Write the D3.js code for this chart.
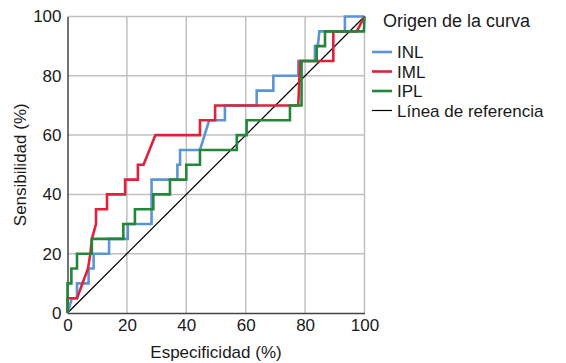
<!DOCTYPE html>
<html>
<head>
<meta charset="utf-8">
<script src="https://cdn.jsdelivr.net/npm/d3@7"></script>
<style>
  body { margin: 0; background: #fff; }
  text { font-family: "Liberation Sans", Arial, sans-serif; fill: #1a1a1a; }
</style>
</head>
<body>
<div id="chart"></div>
<script>
// Curve points: [especificidad, sensibilidad]
var inl = [[0,0],[1.5,5],[3.2,5],[3.2,10],[7.1,10],[7.1,15],[8.8,15],[8.8,20],[14,20],[14,25],
    [20.3,25],[20.3,30],[28.3,30],[28.3,45],[37,45],[37,50],[37.9,50],[37.9,55],[44.6,55],
    [47.7,65],[53,65],[53,70],[63.7,70],[63.7,75],[69.3,75],[69.3,80],[77.7,80],[77.7,85],
    [83.3,85],[83.3,90],[84.3,90],[84.8,95],[93.4,95],[93.4,100],[100,100]];

var iml = [[0,0],[0,5],[3.2,5],[6.9,15],[7.7,20],[8.2,25],[9.6,30],[9.6,35],[13.3,35],[13.3,40],
    [19.4,40],[19.4,45],[23.7,45],[23.7,50],[25.6,50],[29.6,60],[44.6,60],[44.6,65],[49.7,65],
    [49.7,70],[77.7,70],[78.3,85],[89.5,85],[89.5,95],[97.4,95],[100,100]];

var ipl = [[0,0],[0,10],[1.3,10],[1.3,15],[3.2,15],[3.2,20],[8.2,20],[8.2,25],[18.8,25],[18.8,30],
    [22.7,30],[22.7,35],[28.9,35],[28.9,40],[34.5,40],[34.5,45],[40,45],[40,50],[44.6,50],
    [44.6,55],[57,55],[57,60],[60.3,60],[60.3,65],[74.9,65],[74.9,70],[78.8,70],[78.8,85],
    [83.9,85],[83.9,90],[86.7,90],[86.7,95],[99.8,95],[100,100]];

var referencia = [[0,0],[100,100]];

var ticks = [0, 20, 40, 60, 80, 100];
var seriesNames = ["INL", "IML", "IPL", "Línea de referencia"];
var colors = ["#5b95d6", "#e0213b", "#23873a", "#000000"];

var w = 566, h = 363;
var svg = d3.select("#chart").append("svg")
    .attr("width", w)
    .attr("height", h);

var x = d3.scaleLinear().domain([0, 100]).range([67.5, 364.5]);
var y = d3.scaleLinear().domain([0, 100]).range([313, 16.5]);

// grid
svg.append("g").selectAll("line.vx")
    .data(ticks.slice(1))
    .enter().append("line")
    .attr("x1", d => x(d)).attr("x2", d => x(d))
    .attr("y1", y(0)).attr("y2", y(100))
    .attr("stroke", "#c0c0c0").attr("stroke-width", 1.5);

svg.append("g").selectAll("line.hy")
    .data(ticks.slice(1))
    .enter().append("line")
    .attr("x1", x(0)).attr("x2", x(100))
    .attr("y1", d => y(d)).attr("y2", d => y(d))
    .attr("stroke", "#c0c0c0").attr("stroke-width", 1.5);

// axes
var xAxis = svg.append("g")
    .attr("transform", "translate(0," + y(0) + ")")
    .call(d3.axisBottom(x).tickValues(ticks).tickSize(0).tickPadding(6));
var yAxis = svg.append("g")
    .attr("transform", "translate(" + x(0) + ",0)")
    .call(d3.axisLeft(y).tickValues(ticks).tickSize(0).tickPadding(6));

[xAxis, yAxis].forEach(function(a) {
    a.select(".domain").attr("stroke", "#444").attr("stroke-width", 1.5);
    a.selectAll(".tick text")
        .style("font-family", "Liberation Sans, Arial, sans-serif")
        .style("font-size", "17px")
        .attr("fill", "#1a1a1a");
});

// curves
var line = d3.line().x(d => x(d[0])).y(d => y(d[1]));

svg.append("path").datum(referencia)
    .attr("d", line).attr("fill", "none")
    .attr("stroke", colors[3]).attr("stroke-width", 1.2);

[inl, iml, ipl].forEach(function(s, i) {
    svg.append("path").datum(s)
        .attr("d", line)
        .attr("fill", "none")
        .attr("stroke", colors[i])
        .attr("stroke-width", 2.6)
        .attr("stroke-linejoin", "miter");
});

// axis titles
svg.append("text")
    .attr("x", (x(0) + x(100)) / 2)
    .attr("y", 358)
    .attr("text-anchor", "middle")
    .style("font-size", "17px")
    .text("Especificidad (%)");

svg.append("text")
    .attr("transform", "translate(26," + ((y(0) + y(100)) / 2) + ") rotate(-90)")
    .attr("text-anchor", "middle")
    .style("font-size", "17px")
    .text("Sensibilidad (%)");

// legend
var legend = svg.append("g")
    .attr("transform", "translate(372,0)");

legend.append("text")
    .attr("x", 11).attr("y", 27)
    .style("font-size", "18px")
    .text("Origen de la curva");

var items = legend.selectAll(".legend-item")
    .data(seriesNames)
    .enter().append("g")
    .attr("class", "legend-item")
    .attr("transform", (d, i) => "translate(0," + (52 + i * 19.5) + ")");

items.append("line")
    .attr("x1", 0).attr("x2", 20)
    .attr("stroke", (d, i) => colors[i])
    .attr("stroke-width", (d, i) => i < 3 ? 2.6 : 1.2);

items.append("text")
    .attr("x", 25).attr("y", 6)
    .style("font-size", "17px")
    .text(d => d);
</script>
</body>
</html>
